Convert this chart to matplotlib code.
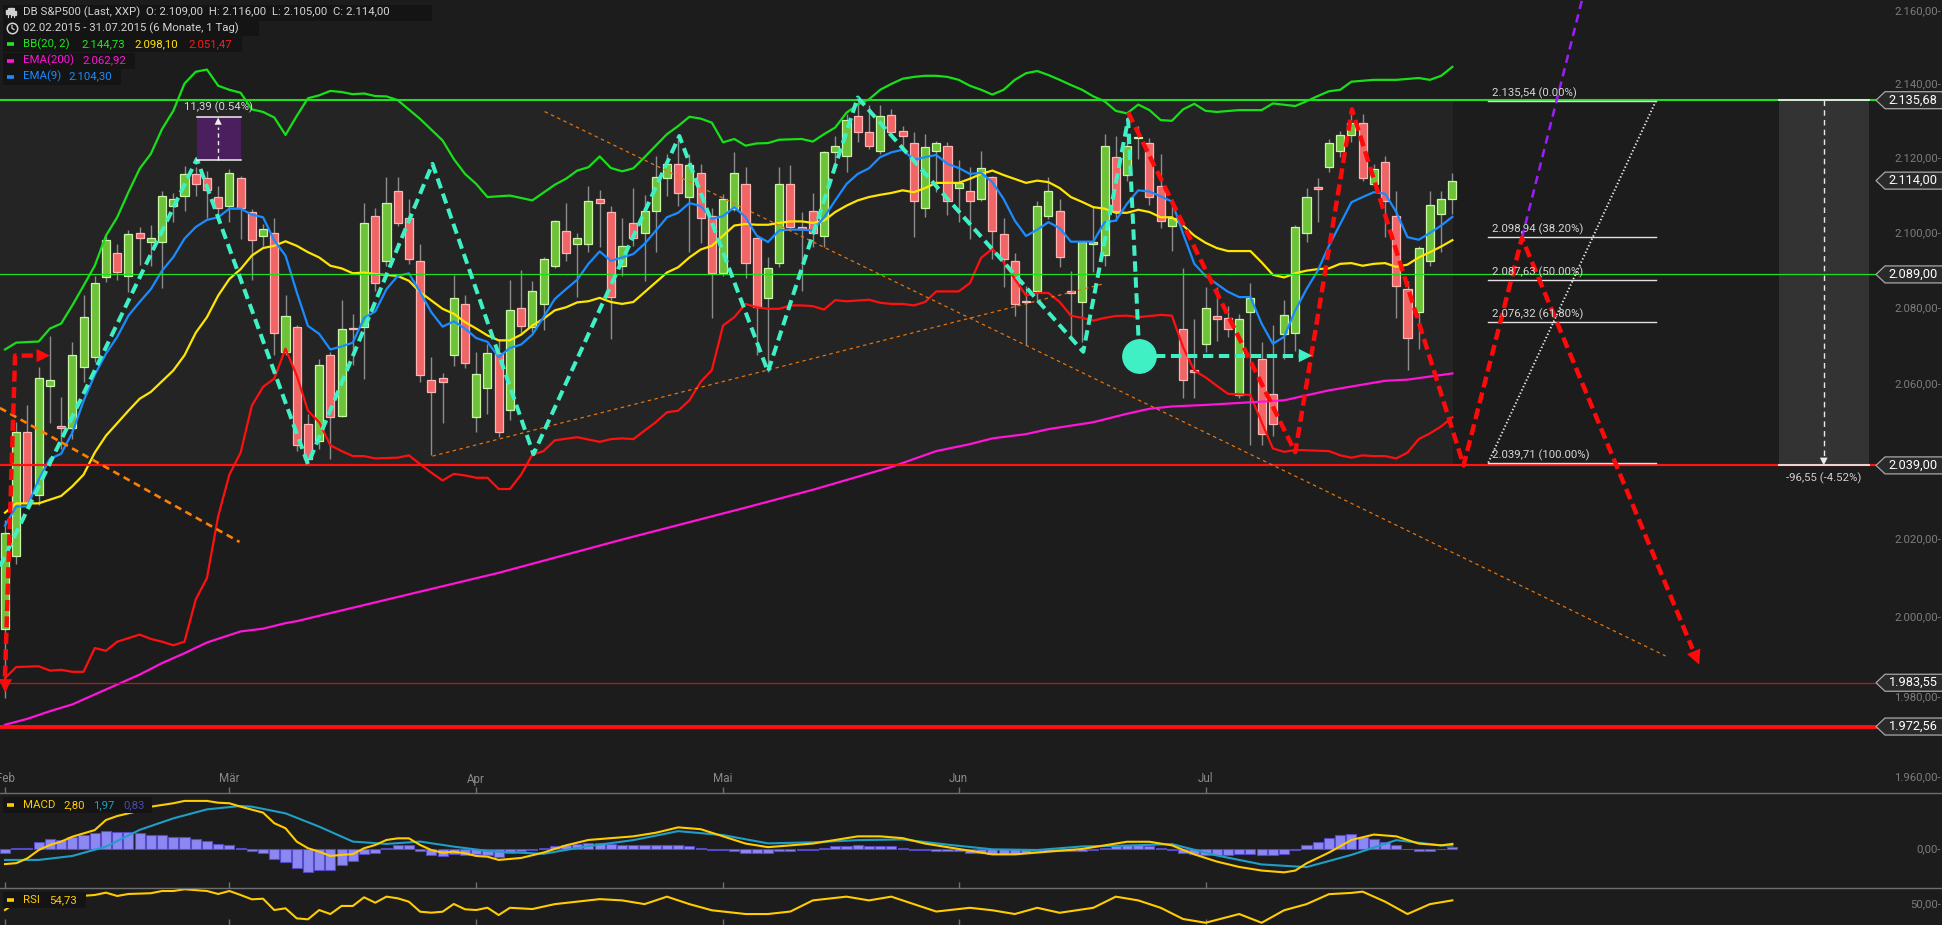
import numpy as np
import matplotlib.pyplot as plt
from matplotlib.patches import Rectangle, Polygon
from matplotlib.lines import Line2D
from matplotlib.ticker import NullLocator

plt.rcParams['font.family'] = ['Roboto', 'DejaVu Sans']
plt.rcParams['lines.scale_dashes'] = False

# --- Data ---
opens = [1997.1, 2015.7, 2047.7, 2031.4, 2059.7, 2049.2, 2048.7, 2064.7, 2067.3, 2088.4,
         2094.7, 2088.5, 2100.0, 2097.6, 2097.6, 2107.3, 2110.0, 2115.9, 2114.7, 2109.6,
         2107.2, 2114.7, 2105.6, 2099.2, 2100.0, 2068.5, 2075.0, 2049.7, 2045.4, 2067.8,
         2051.9, 2074.8, 2075.1, 2104.5, 2092.5, 2111.2, 2104.0, 2092.5, 2061.1, 2061.7,
         2067.7, 2081.1, 2051.5, 2059.2, 2068.3, 2053.5, 2080.2, 2075.1, 2081.1, 2091.1,
         2100.5, 2097.0, 2097.0, 2109.1, 2105.6, 2091.1, 2102.6, 2100.0, 2106.0, 2114.7,
         2118.4, 2109.6, 2116.0, 2104.5, 2089.5, 2106.3, 2113.1, 2098.6, 2082.7, 2092.0,
         2113.1, 2101.6, 2106.0, 2099.2, 2121.6, 2120.5, 2131.4, 2127.0, 2121.9, 2131.6,
         2127.4, 2124.0, 2106.6, 2121.9, 2123.4, 2112.0, 2111.2, 2109.1, 2114.9, 2099.7,
         2092.5, 2081.8, 2084.5, 2104.5, 2106.0, 2084.5, 2081.7, 2097.0, 2094.2, 2120.4,
         2115.4, 2125.4, 2124.0, 2112.5, 2102.0, 2074.7, 2063.6, 2070.7, 2078.1, 2077.6,
         2057.4, 2079.0, 2066.6, 2057.5, 2073.2, 2073.5, 2100.0, 2112.0, 2117.6, 2121.9,
         2126.4, 2129.4, 2113.2, 2118.9, 2104.5, 2085.1, 2079.0, 2092.5, 2105.0, 2109.0]
highs = [2025.0, 2050.3, 2054.7, 2064.7, 2072.8, 2056.8, 2071.2, 2083.6, 2088.6, 2099.3,
         2097.1, 2100.9, 2101.6, 2102.2, 2111.2, 2110.7, 2117.8, 2117.7, 2116.7, 2112.5,
         2117.2, 2115.2, 2106.5, 2102.4, 2104.0, 2083.6, 2075.7, 2052.4, 2066.8, 2068.6,
         2082.3, 2078.6, 2108.0, 2106.7, 2114.9, 2114.9, 2109.1, 2097.1, 2067.2, 2063.0,
         2088.9, 2083.6, 2068.5, 2070.7, 2072.0, 2087.5, 2090.1, 2087.2, 2093.5, 2103.6,
         2108.0, 2100.0, 2112.5, 2111.6, 2107.2, 2104.0, 2112.1, 2110.2, 2120.7, 2121.2,
         2125.2, 2121.2, 2118.5, 2106.6, 2110.5, 2121.8, 2117.7, 2099.0, 2093.5, 2117.6,
         2118.1, 2105.6, 2110.7, 2122.0, 2126.1, 2131.9, 2135.9, 2134.5, 2134.5, 2133.4,
         2128.6, 2127.0, 2126.6, 2124.7, 2124.3, 2119.6, 2117.6, 2122.0, 2115.3, 2104.0,
         2094.7, 2086.0, 2108.6, 2114.9, 2109.1, 2090.0, 2098.0, 2107.3, 2126.5, 2126.0,
         2125.7, 2128.6, 2125.4, 2121.2, 2109.1, 2090.6, 2077.3, 2085.6, 2085.6, 2080.6,
         2078.6, 2086.7, 2071.2, 2075.7, 2082.3, 2102.2, 2112.1, 2114.7, 2125.2, 2127.4,
         2132.3, 2131.9, 2118.5, 2120.5, 2111.2, 2087.3, 2096.6, 2111.2, 2111.2, 2116.0]
lows = [1979.6, 2013.6, 2028.0, 2028.8, 2050.0, 2043.2, 2045.8, 2060.8, 2066.0, 2087.0,
        2087.5, 2084.4, 2091.6, 2091.3, 2085.3, 2102.9, 2105.8, 2109.8, 2104.0, 2104.7,
        2102.9, 2098.3, 2087.6, 2096.6, 2067.7, 2067.7, 2042.7, 2039.3, 2043.2, 2040.6,
        2051.5, 2065.2, 2061.5, 2084.7, 2091.3, 2102.0, 2091.8, 2060.8, 2041.6, 2049.9,
        2064.9, 2064.4, 2047.7, 2052.4, 2046.3, 2050.9, 2073.6, 2073.8, 2074.2, 2090.6,
        2092.6, 2083.1, 2094.9, 2096.2, 2071.9, 2088.6, 2096.6, 2087.3, 2094.9, 2109.8,
        2107.3, 2094.9, 2097.3, 2077.5, 2088.5, 2105.9, 2088.0, 2067.8, 2063.3, 2090.9,
        2100.7, 2084.7, 2096.2, 2096.2, 2118.5, 2116.3, 2124.3, 2122.5, 2121.2, 2126.1,
        2122.5, 2098.9, 2104.2, 2110.9, 2104.7, 2102.9, 2098.5, 2108.6, 2093.1, 2085.7,
        2077.9, 2070.3, 2081.7, 2103.8, 2090.9, 2072.2, 2071.2, 2089.7, 2091.3, 2103.3,
        2114.0, 2119.8, 2107.6, 2101.3, 2095.3, 2056.5, 2056.5, 2068.5, 2071.3, 2072.5,
        2056.5, 2044.2, 2044.2, 2046.7, 2066.8, 2068.7, 2097.7, 2102.9, 2116.3, 2120.3,
        2124.3, 2114.0, 2112.7, 2098.9, 2077.5, 2063.7, 2069.2, 2091.3, 2094.9, 2105.0]
closes = [2021.7, 2047.7, 2029.3, 2061.8, 2061.1, 2048.7, 2067.8, 2077.8, 2086.6, 2098.2,
          2089.6, 2099.7, 2098.6, 2098.6, 2110.0, 2109.0, 2115.9, 2113.0, 2111.4, 2106.6,
          2116.0, 2106.6, 2098.2, 2101.0, 2073.5, 2078.1, 2044.2, 2040.6, 2065.2, 2051.5,
          2074.7, 2074.5, 2102.6, 2086.6, 2108.0, 2102.6, 2093.1, 2062.4, 2058.1, 2060.7,
          2082.7, 2065.7, 2062.7, 2068.3, 2047.6, 2079.6, 2075.5, 2084.5, 2093.0, 2103.2,
          2094.6, 2098.6, 2108.5, 2108.0, 2083.0, 2096.5, 2098.6, 2106.0, 2114.9, 2118.4,
          2110.7, 2118.1, 2104.0, 2089.5, 2109.1, 2116.0, 2092.0, 2080.3, 2090.6, 2113.1,
          2101.6, 2101.1, 2100.0, 2121.6, 2123.4, 2130.3, 2127.0, 2123.4, 2131.4, 2127.0,
          2125.9, 2108.5, 2123.0, 2124.0, 2108.5, 2113.4, 2108.5, 2117.5, 2100.5, 2093.0,
          2081.1, 2081.6, 2107.3, 2111.1, 2093.5, 2084.1, 2097.6, 2097.7, 2123.4, 2106.0,
          2123.4, 2125.8, 2109.6, 2103.2, 2104.0, 2061.3, 2063.3, 2080.1, 2077.3, 2074.7,
          2077.1, 2082.7, 2047.1, 2049.7, 2078.4, 2101.6, 2109.6, 2111.8, 2124.0, 2126.4,
          2129.4, 2114.7, 2117.1, 2108.5, 2086.0, 2072.2, 2096.0, 2107.5, 2109.1, 2114.0]

month_idx = [0, 20, 42, 64, 85, 107]
month_labels = ['Feb', 'Mär', 'Apr', 'Mai', 'Jun', 'Jul']

bb_up_idx = [0, 1, 3, 4, 5, 6, 7, 8, 9, 10, 11, 12, 13, 14, 15, 16, 17, 18, 19, 20, 21, 22, 23, 24, 25,
             26, 27, 28, 29, 30, 31, 32, 33, 34, 35, 37, 39, 40, 41, 42, 43, 45, 47, 49, 50, 51, 52,
             53, 54, 55, 56, 57, 58, 59, 60, 61, 62, 63, 64, 65, 66, 67, 68, 69, 71, 72, 73, 74, 75,
             76, 77, 78, 79, 80, 81, 82, 83, 84, 85, 86, 87, 88, 89, 90, 91, 92, 93, 94, 95, 96, 97,
             98, 99, 100, 101, 102, 103, 104, 105, 106, 107, 108, 110, 112, 113, 115, 116, 117, 118,
             119, 120, 122, 124, 126, 127, 128, 129]
bb_up = [2069.2, 2071.0, 2071.3, 2074.7, 2076.0, 2080.8, 2086.0, 2091.3, 2099.3, 2104.2, 2110.9,
         2117.2, 2121.2, 2127.9, 2132.8, 2140.2, 2143.4, 2144.0, 2139.6, 2138.5, 2137.7, 2133.2,
         2132.5, 2131.0, 2126.3, 2131.4, 2136.2, 2137.0, 2138.2, 2137.9, 2137.3, 2137.5, 2136.8,
         2136.7, 2135.7, 2130.6, 2124.8, 2119.8, 2115.8, 2113.1, 2109.6, 2110.0, 2108.7, 2112.9,
         2114.5, 2116.7, 2117.6, 2120.5, 2117.4, 2116.5, 2117.3, 2120.3, 2123.4, 2126.5, 2128.7,
         2131.2, 2130.7, 2129.6, 2124.3, 2125.2, 2123.4, 2124.0, 2124.1, 2125.0, 2125.2, 2124.5,
         2126.5, 2128.3, 2132.3, 2134.5, 2135.9, 2138.5, 2140.1, 2141.5, 2142.0, 2142.3, 2142.3,
         2142.0, 2141.2, 2139.6, 2138.5, 2137.2, 2138.5, 2141.2, 2143.0, 2143.6, 2142.5, 2141.2,
         2139.8, 2138.5, 2136.7, 2135.4, 2132.8, 2132.1, 2134.5, 2133.0, 2130.3, 2130.1, 2133.2,
         2134.7, 2132.8, 2132.5, 2133.0, 2133.0, 2134.8, 2134.1, 2135.4, 2136.8, 2138.1, 2138.5,
         2140.7, 2141.2, 2141.2, 2141.7, 2141.2, 2142.3, 2144.73]

bb_mid_idx = [0, 1, 3, 5, 6, 7, 8, 9, 11, 12, 13, 15, 16, 17, 18, 19, 20, 21, 22, 23, 24, 25, 26, 27,
              28, 29, 30, 31, 32, 33, 35, 36, 37, 38, 39, 40, 41, 42, 43, 44, 45, 46, 47, 48, 49, 50,
              51, 52, 53, 54, 55, 56, 57, 58, 59, 60, 61, 62, 63, 64, 65, 66, 67, 68, 69, 70, 71, 72,
              73, 74, 75, 76, 77, 78, 79, 80, 81, 82, 83, 84, 85, 86, 87, 88, 89, 91, 92, 93, 94, 95,
              96, 97, 98, 99, 100, 101, 102, 103, 104, 105, 106, 107, 108, 109, 111, 112, 113, 114,
              115, 116, 117, 118, 119, 120, 121, 122, 123, 124, 125, 126, 127, 128, 129]
bb_mid = [2026.8, 2029.2, 2029.2, 2031.1, 2033.6, 2036.6, 2042.3, 2046.7, 2053.2, 2056.3, 2058.1,
          2063.7, 2067.7, 2073.6, 2077.7, 2083.4, 2087.8, 2090.4, 2094.0, 2096.0, 2096.6, 2097.8,
          2096.6, 2094.9, 2093.5, 2091.3, 2090.6, 2089.3, 2089.5, 2089.1, 2088.6, 2087.3, 2084.3,
          2082.1, 2079.9, 2078.6, 2076.4, 2074.7, 2072.9, 2071.6, 2071.6, 2073.1, 2075.5, 2077.3,
          2079.5, 2080.3, 2081.6, 2081.9, 2082.8, 2081.7, 2081.2, 2081.7, 2084.3, 2086.9, 2089.5,
          2090.9, 2093.5, 2095.6, 2096.6, 2099.3, 2102.0, 2102.4, 2102.2, 2102.2, 2102.7, 2103.1,
          2103.1, 2102.7, 2103.3, 2105.6, 2107.3, 2108.7, 2109.6, 2110.2, 2110.7, 2111.4, 2110.9,
          2112.0, 2113.4, 2113.4, 2113.4, 2114.5, 2115.8, 2116.7, 2115.5, 2113.4, 2114.0, 2113.6,
          2112.0, 2109.6, 2108.3, 2106.9, 2106.5, 2105.4, 2105.4, 2106.2, 2105.6, 2104.2, 2104.2,
          2102.0, 2099.3, 2097.4, 2096.0, 2095.2, 2095.2, 2092.2, 2088.9, 2088.2, 2089.3, 2090.0,
          2090.4, 2090.6, 2091.8, 2092.0, 2091.3, 2091.8, 2092.0, 2091.0, 2091.6, 2093.5, 2094.9,
          2096.4, 2098.1]

bb_low_idx = [0, 1, 3, 4, 5, 6, 7, 8, 9, 10, 11, 12, 13, 14, 15, 16, 17, 18, 19, 20, 21, 22, 23, 24,
              25, 26, 27, 28, 29, 30, 31, 32, 33, 35, 36, 37, 38, 39, 40, 41, 42, 43, 44, 45, 46, 47,
              48, 49, 51, 53, 54, 55, 56, 57, 58, 59, 60, 61, 62, 63, 64, 65, 66, 67, 68, 69, 70, 71,
              72, 73, 74, 75, 76, 77, 78, 79, 80, 81, 82, 83, 84, 85, 86, 87, 88, 89, 90, 91, 92, 93,
              94, 95, 96, 97, 98, 99, 100, 101, 102, 103, 104, 105, 106, 107, 108, 109, 111, 112,
              113, 114, 115, 116, 118, 119, 120, 121, 122, 123, 124, 125, 126, 127, 128, 129]
bb_low = [1984.7, 1987.5, 1987.7, 1986.6, 1986.8, 1986.3, 1986.3, 1992.3, 1991.6, 1993.9, 1994.8,
          1995.7, 1994.6, 1993.9, 1993.0, 1993.9, 2004.6, 2010.1, 2025.9, 2036.6, 2042.3, 2054.5,
          2059.4, 2061.6, 2069.4, 2062.4, 2053.2, 2050.2, 2044.2, 2042.7, 2041.4, 2041.4, 2040.8,
          2041.0, 2041.6, 2039.3, 2037.1, 2035.1, 2036.8, 2036.4, 2035.8, 2035.8, 2032.9, 2032.9,
          2036.6, 2041.8, 2042.7, 2045.5, 2046.3, 2045.1, 2045.8, 2046.0, 2045.8, 2048.0, 2050.2,
          2052.8, 2053.2, 2055.9, 2060.7, 2063.8, 2075.5, 2077.7, 2081.2, 2080.3, 2079.9, 2079.9,
          2080.8, 2080.8, 2080.6, 2079.7, 2082.2, 2081.9, 2082.1, 2082.3, 2081.5, 2081.2, 2081.2,
          2080.8, 2081.7, 2084.5, 2084.5, 2084.5, 2086.7, 2093.4, 2095.8, 2092.2, 2087.8, 2083.4,
          2084.1, 2084.1, 2081.7, 2078.1, 2077.5, 2076.8, 2077.5, 2078.0, 2078.1, 2077.7, 2078.0,
          2078.3, 2078.1, 2069.8, 2063.7, 2061.9, 2059.7, 2057.6, 2057.3, 2050.2, 2043.4, 2042.5,
          2043.0, 2042.9, 2042.7, 2041.6, 2041.0, 2041.6, 2041.4, 2041.4, 2040.8, 2042.3, 2045.8,
          2047.3, 2049.1, 2051.47]

ema9 = [2023.5, 2028.4, 2028.4, 2035.3, 2040.7, 2042.0, 2047.5, 2055.7, 2062.6, 2068.1,
        2072.5, 2078.1, 2081.7, 2085.1, 2090.0, 2093.6, 2098.5, 2101.6, 2103.5, 2104.2,
        2106.5, 2106.5, 2104.9, 2104.2, 2098.0, 2094.0, 2084.3, 2075.4, 2073.3, 2069.2,
        2070.0, 2071.0, 2077.5, 2079.2, 2085.1, 2088.6, 2089.3, 2084.3, 2079.0, 2075.2,
        2076.6, 2074.7, 2072.2, 2071.2, 2067.2, 2069.6, 2070.5, 2073.1, 2077.7, 2082.5,
        2085.1, 2087.6, 2091.8, 2095.1, 2092.6, 2093.5, 2094.4, 2097.1, 2100.6, 2104.2,
        2105.4, 2108.0, 2107.2, 2103.8, 2104.5, 2106.9, 2104.2, 2099.3, 2097.6, 2100.7,
        2100.9, 2100.9, 2100.7, 2104.2, 2108.7, 2113.1, 2115.8, 2117.3, 2120.3, 2121.6,
        2122.3, 2119.6, 2120.3, 2120.9, 2118.5, 2117.4, 2115.8, 2116.1, 2113.6, 2109.1,
        2103.3, 2099.2, 2100.9, 2102.9, 2101.3, 2097.7, 2097.7, 2097.7, 2102.9, 2103.3,
        2107.8, 2111.4, 2111.1, 2109.8, 2108.4, 2099.8, 2091.8, 2088.6, 2086.5, 2084.4,
        2083.0, 2083.0, 2076.0, 2070.7, 2072.5, 2079.5, 2085.1, 2090.0, 2096.6, 2102.4,
        2108.2, 2109.6, 2110.9, 2110.5, 2105.6, 2098.9, 2098.2, 2100.0, 2102.0, 2104.3]

ema200_idx = [0, 2, 4, 6, 8, 10, 12, 14, 16, 18, 21, 23, 25, 26, 44, 55, 66, 72, 79, 83, 86, 88,
              91, 93, 97, 100, 102, 104, 107, 114, 118, 123, 125, 129]
ema200 = [1973.0, 1974.5, 1976.4, 1978.1, 1980.6, 1983.1, 1985.6, 1988.5, 1991.0, 1993.7, 1996.5,
          1997.2, 1998.6, 1999.1, 2011.4, 2019.9, 2028.1, 2032.7, 2038.6, 2042.7, 2044.5, 2046.0,
          2047.1, 2048.4, 2050.2, 2052.4, 2053.7, 2054.3, 2054.7, 2055.9, 2058.5, 2061.0, 2061.3,
          2062.92]

macd_idx = [0, 1, 2, 3, 4, 5, 6, 8, 9, 10, 12, 13, 15, 16, 18, 19, 20, 21, 23, 24, 25, 26, 27, 28,
            29, 30, 31, 32, 33, 34, 35, 36, 37, 38, 39, 40, 41, 42, 43, 44, 46, 48, 50, 52, 54, 56,
            58, 60, 62, 64, 66, 68, 70, 72, 74, 76, 78, 80, 82, 84, 86, 88, 90, 92, 94, 96, 98, 100,
            102, 104, 106, 108, 110, 112, 114, 115, 116, 118, 120, 122, 124, 126, 128, 129]
macd_line = [-8.4, -7.9, -5.2, -0.6, 2.2, 4.1, 6.8, 10.5, 16.1, 18.3, 21.3, 23.5, 25.4, 26.7, 26.7,
             25.7, 25.4, 23.5, 20.2, 14.3, 11.5, 4.1, 0.4, -1.5, -3.9, -3.3, -2.9, 0.4, 2.2, 5.0, 5.9,
             5.9, 2.2, -0.6, -2.1, -1.5, -2.4, -3.9, -4.3, -6.1, -5.0, -2.0, 2.0, 5.0, 6.0, 7.0, 9.0,
             12.0, 11.0, 7.0, 3.0, 1.0, 2.0, 3.0, 5.0, 7.0, 7.0, 6.0, 3.0, 1.0, -1.0, -3.0, -3.0,
             -2.0, -1.0, 0.0, 2.0, 4.0, 4.0, 2.0, -3.0, -7.0, -10.0, -12.0, -13.0, -12.0, -8.0, -2.0,
             5.0, 8.0, 7.0, 3.0, 2.0, 2.80]
signal_idx = [0, 3, 6, 9, 12, 15, 18, 21, 22, 25, 28, 31, 34, 37, 40, 43, 44, 48, 52, 56, 60, 64,
              68, 72, 76, 80, 84, 88, 92, 96, 100, 104, 108, 112, 116, 120, 124, 128, 129]
signal_line = [-6.1, -6.1, -3.9, 1.3, 10.6, 17.0, 22.0, 23.9, 23.5, 19.8, 12.4, 4.1, 2.8, 4.1, 1.3,
               -1.1, -1.5, -2.7, 1.6, 4.9, 9.9, 7.7, 3.1, 3.7, 4.9, 5.3, 2.4, -0.2, -0.6, 1.4, 1.9,
               2.7, -3.6, -8.6, -10.1, -3.3, 4.9, 2.0, 1.97]
macd_hist = [-2.4, 0.4, 0.7, 3.9, 5.4, 4.8, 6.5, 7.8, 8.7, 10.0,
             9.6, 9.3, 8.7, 7.8, 7.8, 6.9, 6.5, 5.4, 4.4, 2.8,
             2.0, 0.7, -0.9, -2.4, -5.7, -7.4, -10.7, -13.0, -11.7, -11.7,
             -8.9, -6.9, -2.8, -2.0, 0.4, 2.0, 2.0, -1.1, -3.3, -3.9,
             -2.8, -3.3, -3.0, -3.3, -4.6, -2.0, -1.4, -0.7, 0.7, 1.4,
             2.1, 2.8, 3.4, 3.4, 2.8, 2.1, 2.1, 2.1, 2.1, 2.1,
             2.1, 1.4, 0.7, -0.7, -0.7, -1.4, -2.1, -2.1, -2.1, -1.4,
             -1.4, -0.7, -0.7, 0.7, 1.4, 1.4, 2.1, 1.4, 1.4, 1.4,
             0.7, -0.7, -0.7, -1.0, -1.4, -1.4, -2.1, -2.1, -2.8, -2.8,
             -2.8, -2.1, -1.4, -1.4, -1.4, -1.4, -1.4, -0.7, 0.7, 1.4,
             2.1, 2.1, 1.4, 0.7, -0.7, -2.1, -2.8, -3.4, -3.4, -3.4,
             -2.8, -2.8, -3.4, -3.4, -2.8, -0.7, 2.1, 4.1, 6.2, 7.6,
             8.3, 6.9, 5.5, 4.1, 2.1, 0.0, -1.4, -1.4, 0.0, 0.83]

rsi_idx = [0, 1, 2, 3, 4, 6, 8, 9, 10, 11, 13, 14, 15, 16, 18, 19, 20, 21, 22, 23, 24, 25, 26, 27,
           28, 29, 30, 31, 32, 33, 34, 35, 36, 37, 38, 39, 40, 41, 42, 43, 44, 45, 47, 49, 51, 53,
           55, 57, 59, 61, 63, 66, 68, 70, 72, 75, 77, 79, 81, 83, 86, 88, 90, 92, 94, 97, 99, 101,
           103, 105, 107, 110, 112, 114, 116, 118, 120, 121, 123, 125, 127, 129]
rsi = [43.1, 53.1, 48.0, 56.0, 57.2, 59.2, 61.2, 64.0, 60.0, 62.4, 63.3, 66.0, 66.0, 68.1, 66.0,
       62.4, 66.0, 61.2, 56.0, 56.7, 43.1, 45.2, 33.1, 31.9, 43.1, 38.3, 48.0, 48.0, 58.4, 51.9,
       59.2, 57.2, 53.1, 41.1, 39.9, 41.1, 50.4, 44.0, 43.1, 45.9, 37.1, 45.8, 44.3, 50.2, 53.2,
       56.2, 54.7, 50.2, 59.2, 50.2, 42.8, 38.3, 38.3, 41.3, 54.7, 59.2, 54.7, 59.2, 50.2, 41.3,
       45.8, 42.8, 38.3, 45.8, 39.8, 45.8, 59.2, 54.7, 45.8, 32.3, 27.8, 38.3, 27.8, 42.8, 50.2,
       62.2, 63.7, 65.2, 53.2, 38.3, 50.2, 54.73]

# drawn lines / tools on the chart
h_levels = [2135.68, 2089.00, 2039.00, 1983.55, 1972.56]
h_colors = ['#1fe01f', '#1fe01f', '#ff1414', '#d01010', '#ff1010']
h_widths = [1.5, 0.9, 1.6, 0.9, 2.8]
fib_levels = [2135.54, 2098.94, 2087.63, 2076.32, 2039.71]
fib_pcts = ['0.00%', '38.20%', '50.00%', '61.80%', '100.00%']
red_path_x = [100.1, 115.0, 120.05, 130.0, 135.2, 151.0]
red_path_p = [2132.4, 2042.4, 2133.2, 2039.0, 2098.7, 1988.1]
red_start_x = [0.0, 0.9, 4.0]
red_start_p = [1981.1, 2067.6, 2067.6]
cyan_path_x = [-0.45, 17.1, 27.0, 38.1, 47.1, 60.1, 68.0, 76.0, 96.1, 100.1, 101.1]
cyan_path_p = [2013.0, 2119.8, 2039.3, 2118.5, 2041.9, 2126.0, 2063.4, 2136.4, 2068.6, 2130.5, 2067.6]
cyan_arrow_end = 116.5
purple_x = [135.2, 141.0]
purple_p = [2098.7, 2168.5]
orange_thick = ([-0.45, 20.9], [2053.9, 2019.3])
orange_thin_1 = ([48.1, 148.0], [2132.6, 1990.3])
orange_thin_2 = ([38.1, 97.9], [2041.4, 2086.5])
price_tags = [2135.68, 2114.00, 2089.00, 2039.00, 1983.55, 1972.56]
# 2040 sits under the 2.039,00 tag, so it is left out
main_ticks = [2160, 2140, 2120, 2100, 2080, 2060, 2020, 2000, 1980, 1960]


def de(v, nd=2):
    s = f"{v:,.{nd}f}"
    return s.replace(',', 'X').replace('.', ',').replace('X', '.')


W, H = 1942, 925
BG = '#1c1c1c'
GRID = '#6e6e6e'
fig = plt.figure(figsize=(W / 100, H / 100), dpi=100, facecolor=BG)


def px_axes(y0, y1):
    return fig.add_axes([0, 1 - y1 / H, 1, (y1 - y0) / H])


ax = px_axes(0, 793)
ax_m = px_axes(793, 888)
ax_r = px_axes(888, 925)

XMIN, XMAX = -5 / 11.22, (W - 5) / 11.22
for a in (ax, ax_m, ax_r):
    a.set_facecolor(BG)
    a.set_xlim(XMIN, XMAX)
    for s in a.spines.values():
        s.set_visible(False)
    a.set_xticks(month_idx)
    a.set_xticklabels([])
    a.tick_params(axis='x', direction='in', length=4, color=GRID, width=1)

ax.set_yscale('log')
ax.set_ylim(1956.0, 2163.0)
for a in (ax, ax_m, ax_r):
    a.yaxis.set_major_locator(NullLocator())
    a.yaxis.set_minor_locator(NullLocator())
ax_m.set_ylim(-21.7, 31.1)
ax_r.set_ylim(25.1, 69.6)

# --- main panel ---
ax.add_patch(Rectangle((XMIN, 2039.0), 129.05 - XMIN, 2135.68 - 2039.0,
                       facecolor='#242424', edgecolor='none', zorder=0.5))
ax.add_patch(Rectangle((158.1, 2039.0), 8.0, 2135.68 - 2039.0,
                       facecolor='#333333', edgecolor='none', zorder=0.6))

x = np.arange(len(closes))
o, c = np.array(opens), np.array(closes)
up = c >= o
ax.vlines(x, lows, highs, color='#8c8c8c', lw=1, zorder=2)
ax.bar(x, np.maximum(np.abs(c - o), 0.45), bottom=np.minimum(o, c), width=0.72,
       color=np.where(up, '#6ec23a', '#f06565'),
       edgecolor=np.where(up, '#c9f7a6', '#ffb4b4'), linewidth=0.9, zorder=2.5)

ax.plot(bb_up_idx, bb_up, color='#18e018', lw=1.6, zorder=3)
ax.plot(bb_mid_idx, bb_mid, color='#ffe600', lw=1.6, zorder=3)
ax.plot(bb_low_idx, bb_low, color='#ff1010', lw=1.6, zorder=3)
ax.plot(ema200_idx, ema200, color='#ff14d8', lw=1.6, zorder=3)
ax.plot(x, ema9, color='#1a8cff', lw=1.6, zorder=3)

for lv, col, lw in zip(h_levels, h_colors, h_widths):
    ax.axhline(lv, color=col, lw=lw, zorder=4)
for lv in (2135.68, 2039.0):
    ax.plot([158.1, 166.1], [lv, lv], color='#e8e8e8', lw=1.3, zorder=4.1)


def arrowhead(a, tip, tail, color, size=24):
    a.annotate('', xy=tip, xytext=tail,
               arrowprops=dict(arrowstyle='-|>', color=color, lw=0, shrinkA=0, shrinkB=0,
                               mutation_scale=size), zorder=7)


# measurement on the right
ax.plot([162.1, 162.1], [2135.68, 2041.0], color='#e8e8e8', lw=1, ls=(0, (4, 3)), zorder=5)
arrowhead(ax, (162.1, 2039.0), (162.1, 2050.0), '#e8e8e8', 14)
ax.annotate('-96,55 (-4.52%)', (162.1, 2039.0), xytext=(0, -5), textcoords='offset points',
            ha='center', va='top', color='#cfcfcf', fontsize=8.2)

# fibonacci retracement
for lv, pct in zip(fib_levels, fib_pcts):
    ax.plot([132.2, 147.15], [lv, lv], color='#e0e0e0', lw=1, zorder=4.2)
    ax.annotate(f'{de(lv)} ({pct})', (132.55, lv), xytext=(0, 1.5), textcoords='offset points',
                ha='left', va='bottom', color='#d6d6d6', fontsize=8.2, zorder=6)
ax.plot([132.2, 147.15], [fib_levels[-1], fib_levels[0]], color='#e6e6e6', lw=1.4,
        ls=(0, (1, 1.6)), zorder=4.3)

# trend lines
ax.plot(*orange_thick, color='#ff7f00', lw=1.9, ls=(0, (5, 3.5)), zorder=4.4)
ax.plot(*orange_thin_1, color='#e8720a', lw=0.9, ls=(0, (2.5, 2.5)), zorder=4.4)
ax.plot(*orange_thin_2, color='#e8720a', lw=0.9, ls=(0, (2.5, 2.5)), zorder=4.4)
ax.plot(purple_x, purple_p, color='#a01cff', lw=1.8, ls=(0, (6, 4)), zorder=4.5)

CYAN = '#3ff0c4'
ax.plot(cyan_path_x, cyan_path_p, color=CYAN, lw=2.9, ls=(0, (7.5, 4)), zorder=5)
ax.plot([cyan_path_x[-1], cyan_arrow_end - 0.8], [cyan_path_p[-1]] * 2, color=CYAN, lw=2.9,
        ls=(0, (7.5, 4)), zorder=5)
ax.plot([cyan_path_x[-1]], [cyan_path_p[-1]], marker='o', ms=24, color=CYAN, zorder=5.5)
arrowhead(ax, (cyan_arrow_end, cyan_path_p[-1]), (cyan_arrow_end - 2, cyan_path_p[-1]), CYAN, 24)

RED = '#ff0a0a'
ax.plot(red_path_x[:-1] + [red_path_x[-1] - 0.6], red_path_p[:-1] + [red_path_p[-1] + 4.0],
        color=RED, lw=3.2, ls=(0, (8, 3.8)), zorder=5.2)
arrowhead(ax, (red_path_x[-1], red_path_p[-1]), (red_path_x[-2], red_path_p[-2]), RED, 26)
ax.plot([red_start_x[0], red_start_x[1], red_start_x[2] - 0.6],
        [red_start_p[0] + 4, red_start_p[1], red_start_p[2]],
        color=RED, lw=3.2, ls=(0, (8, 3.8)), zorder=5.2)
arrowhead(ax, (red_start_x[0], red_start_p[0]), (red_start_x[1], red_start_p[1]), RED, 24)
arrowhead(ax, (red_start_x[2], red_start_p[2]), (red_start_x[1], red_start_p[1]), RED, 24)

# small measurement box in February
ax.add_patch(Rectangle((17.1, 2119.6), 3.9, 11.4, facecolor='#4b1e5e', edgecolor='none', zorder=5.6))
for lv in (2119.6, 2131.0):
    ax.plot([17.1, 21.0], [lv, lv], color='#f0f0f0', lw=1.1, zorder=5.7)
ax.plot([19.0, 19.0], [2119.6, 2128.5], color='#f0f0f0', lw=1, ls=(0, (3, 2.5)), zorder=5.7)
arrowhead(ax, (19.0, 2131.0), (19.0, 2125.0), '#f0f0f0', 13)
ax.annotate('11,39 (0.54%)', (19.0, 2131.0), xytext=(0, 3), textcoords='offset points',
            ha='center', va='bottom', color='#d8d8d8', fontsize=8.2, zorder=6)

# y labels on the right
ytr = ax.get_yaxis_transform()
for v in main_ticks:
    ax.text(0.9995, v, de(v) + '-', transform=ytr, ha='right', va='center',
            color='#7c7c7c', fontsize=8.2, zorder=6)

# month labels
for mi, ml in zip(month_idx, month_labels):
    fig.text((5 + 11.22 * mi) / W, 1 - 779 / H, ml, ha='center', va='center',
             color='#8a8a8a', fontsize=8.4)

# --- MACD panel ---
ax_m.bar(x, macd_hist, width=0.9, color='#8c88f2', edgecolor='#5649c4', linewidth=0.8, zorder=2)
ax_m.plot(signal_idx, signal_line, color='#1f9fc6', lw=1.5, zorder=3)
ax_m.plot(macd_idx, macd_line, color='#ffcc00', lw=1.5, zorder=4)
ax_m.text(0.9995, 0, '0,00-', transform=ax_m.get_yaxis_transform(), ha='right', va='center',
          color='#7c7c7c', fontsize=8.2)

# --- RSI panel ---
ax_r.plot(rsi_idx, rsi, color='#ffcc00', lw=1.5, zorder=3)
ax_r.text(0.9995, 50, '50,00-', transform=ax_r.get_yaxis_transform(), ha='right', va='center',
          color='#7c7c7c', fontsize=8.2)

for ypx in (793, 888):
    fig.add_artist(Line2D([0, 1], [1 - ypx / H] * 2, transform=fig.transFigure,
                          color=GRID, lw=1, zorder=2))

# --- price tags (drawn in pixel space) ---
fig.canvas.draw()
for p in price_tags:
    yd = ax.transData.transform((0, p))[1]
    pts = [(1876, yd), (1885, yd + 8.5), (1946, yd + 8.5), (1946, yd - 8.5), (1885, yd - 8.5)]
    pts = [(px / W, py / H) for px, py in pts]
    fig.add_artist(Polygon(pts, closed=True, transform=fig.transFigure, facecolor='#2a2a2a',
                           edgecolor='#a8a8a8', lw=0.9, zorder=8))
    fig.text(1913 / W, yd / H, de(p), ha='center', va='center', color='white',
             fontsize=9.2, zorder=9)


# --- legend rows top-left ---
def row_box(ypx, x1):
    fig.add_artist(Rectangle((3 / W, 1 - (ypx + 8) / H), (x1 - 3) / W, 16 / H,
                             transform=fig.transFigure, facecolor='#141414', edgecolor='none',
                             zorder=4))


def ftxt(xpx, ypx, s, color, size=8.2):
    fig.text(xpx / W, 1 - ypx / H, s, ha='left', va='center', color=color, fontsize=size, zorder=6)


def dash_icon(ypx, color):
    fig.add_artist(Line2D([7 / W, 14 / W], [1 - ypx / H] * 2, transform=fig.transFigure,
                          color=color, lw=2.6, solid_capstyle='butt', zorder=6))


row_box(12.7, 432)
for xi, hh in zip((8, 11, 14), (4, 6, 3)):
    fig.add_artist(Line2D([xi / W] * 2, [1 - (12.7 - 4.5) / H, 1 - (12.7 + 4.5) / H],
                          transform=fig.transFigure, color='#cfcfcf', lw=0.8, zorder=6))
    fig.add_artist(Line2D([xi / W], [1 - (12.7 - hh + 3) / H], transform=fig.transFigure,
                          marker='s', ms=2.2, color='#cfcfcf', zorder=6))
ftxt(23, 12.7, 'DB S&P500 (Last, XXP)  O: 2.109,00  H: 2.116,00  L: 2.105,00  C: 2.114,00', '#d4d4d4')

row_box(28.3, 259)
fig.add_artist(Line2D([12 / W], [1 - 28.3 / H], transform=fig.transFigure, marker='o', ms=7.5,
                      mfc='none', mec='#d4d4d4', mew=1.1, zorder=6))
fig.add_artist(Line2D([12 / W, 12 / W, 14 / W], [1 - 25.5 / H, 1 - 28.3 / H, 1 - 29.5 / H],
                      transform=fig.transFigure, color='#d4d4d4', lw=0.9, zorder=6))
ftxt(23, 28.3, '02.02.2015 - 31.07.2015 (6 Monate, 1 Tag)', '#d4d4d4')

row_box(44.2, 242)
dash_icon(44.2, '#22e622')
ftxt(23, 44.2, 'BB(20, 2)', '#22e622')
ftxt(81, 44.2, '2.144,73', '#22e622')
ftxt(134, 44.2, '2.098,10', '#ffe600')
ftxt(188, 44.2, '2.051,47', '#ff1a1a')

row_box(60.7, 135)
dash_icon(60.7, '#ff14d8')
ftxt(23, 60.7, 'EMA(200)', '#ff14d8')
ftxt(82, 60.7, '2.062,92', '#ff14d8')

row_box(76.7, 121)
dash_icon(76.7, '#1a8cff')
ftxt(23, 76.7, 'EMA(9)', '#1a8cff')
ftxt(68, 76.7, '2.104,30', '#1a8cff')

row_box(805, 152)
dash_icon(805, '#ffcc00')
ftxt(23, 805, 'MACD', '#ffcc00')
ftxt(63, 805, '2,80', '#ffcc00')
ftxt(93, 805, '1,97', '#1f9fc6')
ftxt(123, 805, '0,83', '#4d48a8')

row_box(900, 86)
dash_icon(900, '#ffcc00')
ftxt(23, 900, 'RSI', '#ffcc00')
ftxt(49, 900, '54,73', '#ffcc00')

fig.savefig('out.png', dpi=100, facecolor=BG)
